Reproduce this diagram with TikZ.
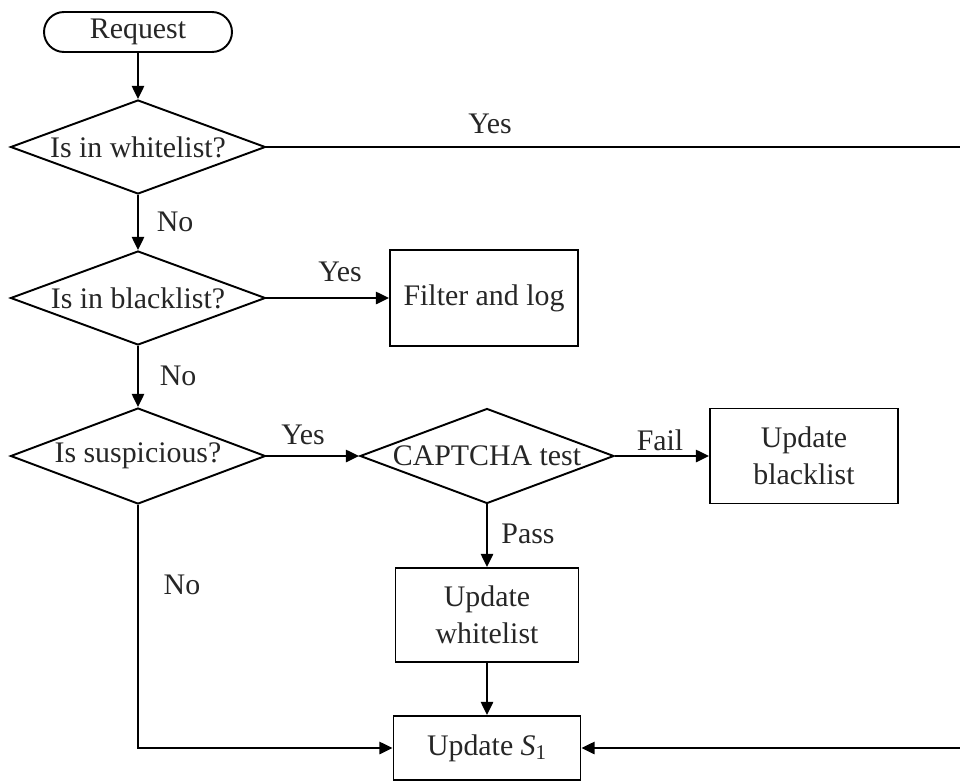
\documentclass[tikz,border=0pt]{standalone}
\usepackage{fontspec}
\setmainfont{Liberation Serif}
\usetikzlibrary{shapes.geometric,shapes.misc,arrows.meta}

\tikzset{
  base/.style={draw=black, line width=1.1pt, font=\fontsize{17}{21}\selectfont, text=black!85},
  terminal/.style={base, rounded rectangle, minimum width=3.76cm, minimum height=0.8cm, inner sep=0pt},
  decision/.style={base, diamond, aspect=1, inner sep=0pt},
  process/.style={base, rectangle, align=center, inner sep=0pt},
  flow/.style={line width=1.1pt, -{Triangle[length=7.5pt,width=7pt]}},
  plain/.style={line width=1.1pt},
  tag/.style={font=\fontsize{17}{21}\selectfont, text=black!85, inner sep=0pt},
}

\begin{document}
\begin{tikzpicture}[x=0.02cm, y=-0.02cm]
  \useasboundingbox (0,0) rectangle (960,781);

  % nodes
  \node[terminal] (req) at (138,32) {Request};
  \node[decision, minimum width=5.1cm, minimum height=1.88cm] (white) at (138,147) {\makebox[0pt]{Is in whitelist?}};
  \node[decision, minimum width=5.1cm, minimum height=1.88cm] (black) at (138,298) {\makebox[0pt]{Is in blacklist?}};
  \node[process, minimum width=3.76cm, minimum height=1.92cm] (filter) at (484,298) {Filter and log};
  \node[decision, minimum width=5.1cm, minimum height=1.92cm] (susp) at (138,456) {\makebox[0pt]{Is suspicious?}};
  \node[decision, minimum width=5.08cm, minimum height=1.9cm] (captcha) at (487,456) {\makebox[0pt]{CAPTCHA test}};
  \node[process, minimum width=3.76cm, minimum height=1.9cm] (ublack) at (804,456) {Update\\blacklist};
  \node[process, minimum width=3.66cm, minimum height=1.88cm] (uwhite) at (487,615) {Update\\whitelist};
  \node[process, minimum width=3.74cm, minimum height=1.28cm] (us) at (487,748) {Update \textit{S}\textsubscript{1}};

  % free ends at the right edge
  \coordinate (eastA) at (962,147);
  \coordinate (eastB) at (962,748);
  \coordinate (corner) at (138,748);

  % connectors
  \draw[flow] (req) -- (white);
  \draw[plain] (white.east) -- (eastA);
  \draw[flow] (white) -- (black);
  \draw[flow] (black.east) -- (filter.west);
  \draw[flow] (black) -- (susp);
  \draw[flow] (susp.east) -- (captcha.west);
  \draw[flow] (captcha.east) -- (ublack.west);
  \draw[flow] (captcha) -- (uwhite);
  \draw[flow] (uwhite) -- (us);
  \draw[flow] (susp.south) -- (corner) -- (us.west);
  \draw[flow] (eastB) -- (us.east);

  % branch labels
  \node[tag] (l1) at (490,124) {Yes};
  \node[tag] (l2) at (175,222) {No};
  \node[tag] (l3) at (340,272) {Yes};
  \node[tag] (l4) at (178,376) {No};
  \node[tag] (l5) at (303,435) {Yes};
  \node[tag] (l6) at (660,440) {Fail};
  \node[tag] (l7) at (528,534) {Pass};
  \node[tag] (l8) at (182,585) {No};
\end{tikzpicture}
\end{document}
